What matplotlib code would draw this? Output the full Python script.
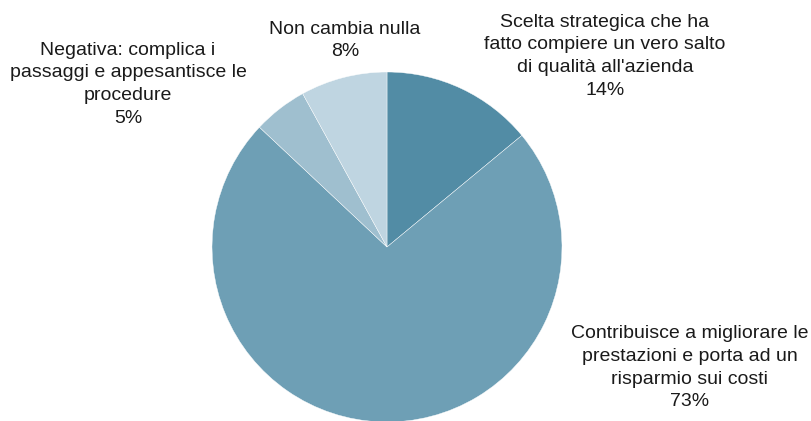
import matplotlib.pyplot as plt

plt.rcParams['font.family'] = ['Liberation Sans', 'DejaVu Sans']

# Answers and shares (percent), clockwise from the top
labels = [
    "Scelta strategica che ha\nfatto compiere un vero salto\ndi qualità all'azienda",
    "Contribuisce a migliorare le\nprestazioni e porta ad un\nrisparmio sui costi",
    "Negativa: complica i\npassaggi e appesantisce le\nprocedure",
    "Non cambia nulla",
]
values = [14, 73, 5, 8]
colors = ['#528CA5', '#6E9FB5', '#9FBFCF', '#BFD5E1']

# label anchor points in pie units (radius = 1)
label_pos = [(1.246, 1.09), (1.73, -0.69), (-1.48, 0.93), (-0.24, 1.18)]

fig = plt.figure(figsize=(8.11, 4.21), dpi=100)
ax = fig.add_axes([212 / 811, -1 / 421, 350 / 811, 350 / 421])

wedges, _ = ax.pie(values, colors=colors, startangle=90, counterclock=False,
                   radius=1.0, wedgeprops=dict(edgecolor='white', linewidth=0.3))
for w in wedges:
    w.set_clip_on(False)

for lab, v, (x, y) in zip(labels, values, label_pos):
    ax.text(x, y, f"{lab}\n{v}%", ha='center', va='center', fontsize=14,
            linespacing=1.43, color='#1a1a1a', clip_on=False)

ax.set_xlim(-1, 1)
ax.set_ylim(-1, 1)
ax.set_aspect('equal')
ax.axis('off')

fig.savefig('out.png', dpi=100)
plt.close()
